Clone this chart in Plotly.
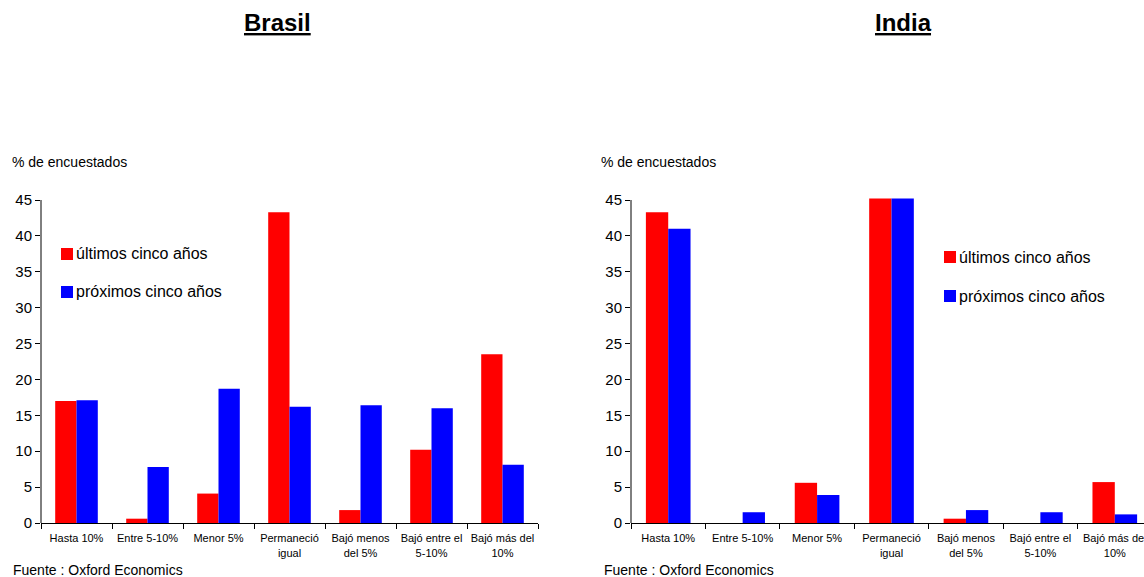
import plotly.graph_objects as go

# Survey categories (shared by both panels)
categories = [
    "Hasta 10%",
    "Entre 5-10%",
    "Menor 5%",
    "Permaneció<br>igual",
    "Bajó menos<br>del 5%",
    "Bajó entre el<br>5-10%",
    "Bajó más del<br>10%",
]

series_names = ["últimos cinco años", "próximos cinco años"]
series_colors = ["#FF0000", "#0000FF"]

# Brasil: % of respondents
brasil_ultimos = [17.0, 0.6, 4.1, 43.3, 1.8, 10.2, 23.5]
brasil_proximos = [17.1, 7.8, 18.7, 16.2, 16.4, 16.0, 8.1]

# India: % of respondents
india_ultimos = [43.3, 0.0, 5.6, 45.2, 0.6, 0.0, 5.7]
india_proximos = [41.0, 1.5, 3.9, 45.2, 1.8, 1.5, 1.2]

y_ticks = [0, 5, 10, 15, 20, 25, 30, 35, 40, 45]

W, H = 1144, 577
FONT = "Liberation Sans, Arial, sans-serif"


def px_x(x):
    return x / W


def px_y(y):
    return (H - y) / H


# vertical geometry: value 0 sits at y=523 px, value 45 at y=200 px
y0_px, y45_px = 523, 200
unit_px = (y0_px - y45_px) / 45
y_top_val = 45.6
y_top_px = y0_px - y_top_val * unit_px

fig = go.Figure()

panels = [
    dict(xa="x", ya="y", data=(brasil_ultimos, brasil_proximos)),
    dict(xa="x2", ya="y2", data=(india_ultimos, india_proximos)),
]
for p in panels:
    for name, color, vals in zip(series_names, series_colors, p["data"]):
        fig.add_trace(go.Bar(
            x=categories, y=vals, name=name,
            marker=dict(color=color, line=dict(width=0)),
            xaxis=p["xa"], yaxis=p["ya"], showlegend=False,
        ))

# India panel is wider than the remaining canvas: its last category is cut at the edge
india_left, india_cat_w = 631, 74.43
india_range_right = -0.5 + (W - india_left) / india_cat_w

xaxis_common = dict(
    type="category", showline=True, linecolor="black", linewidth=1,
    ticks="outside", ticklen=5, tickcolor="black", tickson="boundaries",
    ticklabelstandoff=5, tickangle=0,
    tickfont=dict(family=FONT, size=11, color="black"),
    showgrid=False, zeroline=False, fixedrange=True,
)
yaxis_common = dict(
    range=[0, y_top_val], tickvals=y_ticks, ticks="outside", ticklen=5,
    tickcolor="black", showline=False, showgrid=False, zeroline=False,
    tickfont=dict(family=FONT, size=15, color="black"),
)

fig.update_layout(
    width=W, height=H,
    margin=dict(l=0, r=0, t=0, b=0, autoexpand=False),
    paper_bgcolor="white", plot_bgcolor="white",
    barmode="group", bargap=0.4, bargroupgap=0,
    font=dict(family=FONT, color="black"),
    xaxis=dict(xaxis_common, domain=[px_x(41), px_x(538)], anchor="y",
               range=[-0.5, 6.5]),
    yaxis=dict(yaxis_common, domain=[px_y(y0_px), px_y(y_top_px)], anchor="x"),
    xaxis2=dict(xaxis_common, domain=[px_x(india_left), 1.0], anchor="y2",
                range=[-0.5, india_range_right]),
    yaxis2=dict(yaxis_common, domain=[px_y(y0_px), px_y(y_top_px)], anchor="x2"),
)

shapes = []
annotations = []

# y-axis lines from 0 to 45
for xr, yr in (("x domain", "y"), ("x2 domain", "y2")):
    shapes.append(dict(type="line", xref=xr, yref=yr, x0=0, x1=0, y0=0, y1=45,
                       line=dict(color="black", width=1)))

panel_text = [
    dict(title="Brasil", title_x=277, unit_x=10, src_x=11,
         legend_sq_x=61, legend_y=(254, 292)),
    dict(title="India", title_x=903, unit_x=599, src_x=602,
         legend_sq_x=944, legend_y=(257, 296)),
]
for t in panel_text:
    annotations.append(dict(
        text=f"<b><u>{t['title']}</u></b>", x=px_x(t["title_x"]), y=px_y(22),
        xref="paper", yref="paper", xanchor="center", yanchor="middle",
        showarrow=False, font=dict(family=FONT, size=24, color="black"),
    ))
    annotations.append(dict(
        text="% de encuestados", x=px_x(t["unit_x"]), y=px_y(162),
        xref="paper", yref="paper", xanchor="left", yanchor="middle",
        showarrow=False, font=dict(family=FONT, size=14, color="black"),
    ))
    annotations.append(dict(
        text="Fuente : Oxford Economics", x=px_x(t["src_x"]), y=px_y(570),
        xref="paper", yref="paper", xanchor="left", yanchor="middle",
        showarrow=False, font=dict(family=FONT, size=14, color="black"),
    ))
    # legend entries: colour swatch followed by the series label
    for name, color, cy in zip(series_names, series_colors, t["legend_y"]):
        sx = t["legend_sq_x"]
        shapes.append(dict(
            type="rect", xref="paper", yref="paper",
            x0=px_x(sx), x1=px_x(sx + 12), y0=px_y(cy + 6), y1=px_y(cy - 6),
            fillcolor=color, line=dict(width=0),
        ))
        annotations.append(dict(
            text=name, x=px_x(sx + 13), y=px_y(cy),
            xref="paper", yref="paper", xanchor="left", yanchor="middle",
            showarrow=False, font=dict(family=FONT, size=16, color="black"),
        ))

fig.update_layout(shapes=shapes, annotations=annotations)

fig.write_html("out.html", config={"displayModeBar": False})
